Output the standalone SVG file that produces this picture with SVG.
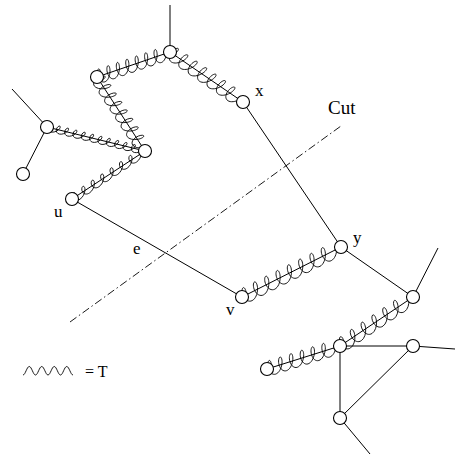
<svg xmlns="http://www.w3.org/2000/svg" xmlns:xlink="http://www.w3.org/1999/xlink" width="455" height="457" viewBox="0 0 455 457">
<style>
.ln{stroke:#000;stroke-width:1;fill:none}
.wv{stroke:#000;stroke-width:0.9;fill:none}
.nd{fill:#fff;stroke:#000;stroke-width:1.1}
.cut{stroke:#000;stroke-width:0.9;fill:none;stroke-dasharray:8 3 1.5 3}
text{font-family:"Liberation Serif","Times New Roman",serif;font-size:17px;fill:#000}
</style>
<defs>
<path id="w6" class="wv" vector-effect="non-scaling-stroke" d="M0,0 h4.5 c2.12,-3.58 1.87,-6.5 0.45,-6.5 c-1.42,0 -3.43,2.93 -3.45,6.5 c-0.02,3.58 2.02,6.5 5.55,6.5 c3.53,0 7.33,-2.93 9.45,-6.5 c2.12,-3.58 1.87,-6.5 0.45,-6.5 c-1.42,0 -3.43,2.93 -3.45,6.5 c-0.02,3.58 2.02,6.5 5.55,6.5 c3.53,0 7.33,-2.93 9.45,-6.5 c2.12,-3.58 1.87,-6.5 0.45,-6.5 c-1.42,0 -3.43,2.93 -3.45,6.5 c-0.02,3.58 2.02,6.5 5.55,6.5 c3.53,0 7.33,-2.93 9.45,-6.5 c2.12,-3.58 1.87,-6.5 0.45,-6.5 c-1.42,0 -3.43,2.93 -3.45,6.5 c-0.02,3.58 2.02,6.5 5.55,6.5 c3.53,0 7.33,-2.93 9.45,-6.5 c2.12,-3.58 1.87,-6.5 0.45,-6.5 c-1.42,0 -3.43,2.93 -3.45,6.5 c-0.02,3.58 2.02,6.5 5.55,6.5 c3.53,0 7.33,-2.93 9.45,-6.5 c2.12,-3.58 1.87,-6.5 0.45,-6.5 c-1.42,0 -3.43,2.93 -3.45,6.5 c-0.02,3.58 2.02,6.5 5.55,6.5 c3.53,0 7.33,-2.93 9.45,-6.5 h4.5"/>
<path id="w7" class="wv" vector-effect="non-scaling-stroke" d="M0,0 h4.5 c2.12,-3.58 1.87,-6.5 0.45,-6.5 c-1.42,0 -3.43,2.93 -3.45,6.5 c-0.02,3.58 2.02,6.5 5.55,6.5 c3.53,0 7.33,-2.93 9.45,-6.5 c2.12,-3.58 1.87,-6.5 0.45,-6.5 c-1.42,0 -3.43,2.93 -3.45,6.5 c-0.02,3.58 2.02,6.5 5.55,6.5 c3.53,0 7.33,-2.93 9.45,-6.5 c2.12,-3.58 1.87,-6.5 0.45,-6.5 c-1.42,0 -3.43,2.93 -3.45,6.5 c-0.02,3.58 2.02,6.5 5.55,6.5 c3.53,0 7.33,-2.93 9.45,-6.5 c2.12,-3.58 1.87,-6.5 0.45,-6.5 c-1.42,0 -3.43,2.93 -3.45,6.5 c-0.02,3.58 2.02,6.5 5.55,6.5 c3.53,0 7.33,-2.93 9.45,-6.5 c2.12,-3.58 1.87,-6.5 0.45,-6.5 c-1.42,0 -3.43,2.93 -3.45,6.5 c-0.02,3.58 2.02,6.5 5.55,6.5 c3.53,0 7.33,-2.93 9.45,-6.5 c2.12,-3.58 1.87,-6.5 0.45,-6.5 c-1.42,0 -3.43,2.93 -3.45,6.5 c-0.02,3.58 2.02,6.5 5.55,6.5 c3.53,0 7.33,-2.93 9.45,-6.5 c2.12,-3.58 1.87,-6.5 0.45,-6.5 c-1.42,0 -3.43,2.93 -3.45,6.5 c-0.02,3.58 2.02,6.5 5.55,6.5 c3.53,0 7.33,-2.93 9.45,-6.5 h4.5"/>
<path id="w8" class="wv" vector-effect="non-scaling-stroke" d="M0,0 h4.5 c2.12,-3.58 1.87,-6.5 0.45,-6.5 c-1.42,0 -3.43,2.93 -3.45,6.5 c-0.02,3.58 2.02,6.5 5.55,6.5 c3.53,0 7.33,-2.93 9.45,-6.5 c2.12,-3.58 1.87,-6.5 0.45,-6.5 c-1.42,0 -3.43,2.93 -3.45,6.5 c-0.02,3.58 2.02,6.5 5.55,6.5 c3.53,0 7.33,-2.93 9.45,-6.5 c2.12,-3.58 1.87,-6.5 0.45,-6.5 c-1.42,0 -3.43,2.93 -3.45,6.5 c-0.02,3.58 2.02,6.5 5.55,6.5 c3.53,0 7.33,-2.93 9.45,-6.5 c2.12,-3.58 1.87,-6.5 0.45,-6.5 c-1.42,0 -3.43,2.93 -3.45,6.5 c-0.02,3.58 2.02,6.5 5.55,6.5 c3.53,0 7.33,-2.93 9.45,-6.5 c2.12,-3.58 1.87,-6.5 0.45,-6.5 c-1.42,0 -3.43,2.93 -3.45,6.5 c-0.02,3.58 2.02,6.5 5.55,6.5 c3.53,0 7.33,-2.93 9.45,-6.5 c2.12,-3.58 1.87,-6.5 0.45,-6.5 c-1.42,0 -3.43,2.93 -3.45,6.5 c-0.02,3.58 2.02,6.5 5.55,6.5 c3.53,0 7.33,-2.93 9.45,-6.5 c2.12,-3.58 1.87,-6.5 0.45,-6.5 c-1.42,0 -3.43,2.93 -3.45,6.5 c-0.02,3.58 2.02,6.5 5.55,6.5 c3.53,0 7.33,-2.93 9.45,-6.5 c2.12,-3.58 1.87,-6.5 0.45,-6.5 c-1.42,0 -3.43,2.93 -3.45,6.5 c-0.02,3.58 2.02,6.5 5.55,6.5 c3.53,0 7.33,-2.93 9.45,-6.5 h4.5"/>
<path id="w11" class="wv" vector-effect="non-scaling-stroke" d="M0,0 h4.5 c2.12,-3.58 1.87,-6.5 0.45,-6.5 c-1.42,0 -3.43,2.93 -3.45,6.5 c-0.02,3.58 2.02,6.5 5.55,6.5 c3.53,0 7.33,-2.93 9.45,-6.5 c2.12,-3.58 1.87,-6.5 0.45,-6.5 c-1.42,0 -3.43,2.93 -3.45,6.5 c-0.02,3.58 2.02,6.5 5.55,6.5 c3.53,0 7.33,-2.93 9.45,-6.5 c2.12,-3.58 1.87,-6.5 0.45,-6.5 c-1.42,0 -3.43,2.93 -3.45,6.5 c-0.02,3.58 2.02,6.5 5.55,6.5 c3.53,0 7.33,-2.93 9.45,-6.5 c2.12,-3.58 1.87,-6.5 0.45,-6.5 c-1.42,0 -3.43,2.93 -3.45,6.5 c-0.02,3.58 2.02,6.5 5.55,6.5 c3.53,0 7.33,-2.93 9.45,-6.5 c2.12,-3.58 1.87,-6.5 0.45,-6.5 c-1.42,0 -3.43,2.93 -3.45,6.5 c-0.02,3.58 2.02,6.5 5.55,6.5 c3.53,0 7.33,-2.93 9.45,-6.5 c2.12,-3.58 1.87,-6.5 0.45,-6.5 c-1.42,0 -3.43,2.93 -3.45,6.5 c-0.02,3.58 2.02,6.5 5.55,6.5 c3.53,0 7.33,-2.93 9.45,-6.5 c2.12,-3.58 1.87,-6.5 0.45,-6.5 c-1.42,0 -3.43,2.93 -3.45,6.5 c-0.02,3.58 2.02,6.5 5.55,6.5 c3.53,0 7.33,-2.93 9.45,-6.5 c2.12,-3.58 1.87,-6.5 0.45,-6.5 c-1.42,0 -3.43,2.93 -3.45,6.5 c-0.02,3.58 2.02,6.5 5.55,6.5 c3.53,0 7.33,-2.93 9.45,-6.5 c2.12,-3.58 1.87,-6.5 0.45,-6.5 c-1.42,0 -3.43,2.93 -3.45,6.5 c-0.02,3.58 2.02,6.5 5.55,6.5 c3.53,0 7.33,-2.93 9.45,-6.5 c2.12,-3.58 1.87,-6.5 0.45,-6.5 c-1.42,0 -3.43,2.93 -3.45,6.5 c-0.02,3.58 2.02,6.5 5.55,6.5 c3.53,0 7.33,-2.93 9.45,-6.5 c2.12,-3.58 1.87,-6.5 0.45,-6.5 c-1.42,0 -3.43,2.93 -3.45,6.5 c-0.02,3.58 2.02,6.5 5.55,6.5 c3.53,0 7.33,-2.93 9.45,-6.5 h4.5"/>
</defs>

<line class="cut" x1="70" y1="322" x2="341" y2="126"/>

<g id="connectors">
  <line class="ln" x1="170" y1="52" x2="170" y2="5"/>
  <line class="ln" x1="47" y1="127" x2="12" y2="89"/>
  <line class="ln" x1="47" y1="127" x2="23" y2="174"/>
  <line class="ln" x1="72" y1="199" x2="242" y2="297"/>
  <line class="ln" x1="243" y1="102" x2="341" y2="247"/>
  <line class="ln" x1="341" y1="247" x2="413" y2="297"/>
  <line class="ln" x1="413" y1="297" x2="438" y2="248"/>
  <line class="ln" x1="340" y1="346" x2="413" y2="346"/>
  <line class="ln" x1="340" y1="346" x2="340" y2="418"/>
  <line class="ln" x1="413" y1="346" x2="340" y2="418"/>
  <line class="ln" x1="413" y1="346" x2="455" y2="349"/>
  <line class="ln" x1="340" y1="418" x2="370" y2="454"/>
  <line class="ln" x1="97" y1="77" x2="170" y2="52"/>
  <line class="ln" x1="170" y1="52" x2="243" y2="102"/>
  <line class="ln" x1="97" y1="77" x2="145" y2="151"/>
  <line class="ln" x1="47" y1="127" x2="145" y2="151"/>
  <line class="ln" x1="72" y1="199" x2="145" y2="151"/>
  <line class="ln" x1="242" y1="297" x2="341" y2="247"/>
  <line class="ln" x1="267" y1="369" x2="340" y2="346"/>
  <line class="ln" x1="340" y1="346" x2="413" y2="297"/>
  <use href="#w7" transform="translate(97,77) rotate(-18.9) scale(0.83,1.1)"/>
  <use href="#w7" transform="translate(170,52) rotate(34.4) scale(0.951,1.15)"/>
  <use href="#w8" transform="translate(97,77) rotate(57.0) scale(0.84,1.1)"/>
  <use href="#w11" transform="translate(47,127) rotate(13.8) scale(0.716,0.6)"/>
  <use href="#w7" transform="translate(72,199) rotate(-33.3) scale(0.939,0.7)"/>
  <use href="#w8" transform="translate(242,297) rotate(-26.8) scale(1.056,1.2)"/>
  <use href="#w6" transform="translate(267,369) rotate(-17.5) scale(0.945,1.15)"/>
  <use href="#w6" transform="translate(340,346) rotate(-33.9) scale(1.085,1.15)"/>
</g>

<g id="nA"><circle class="nd" cx="170" cy="52" r="6.5"/></g>
<g id="nB"><circle class="nd" cx="97" cy="77" r="6.5"/></g>
<g id="nX"><circle class="nd" cx="243" cy="102" r="6.5"/><text x="255" y="96">x</text></g>
<g id="nD"><circle class="nd" cx="47" cy="127" r="6.5"/></g>
<g id="nE"><circle class="nd" cx="23" cy="174" r="6.5"/></g>
<g id="nF"><circle class="nd" cx="145" cy="151" r="6.5"/></g>
<g id="nU"><circle class="nd" cx="72" cy="199" r="6.5"/><text x="54" y="217">u</text></g>
<g id="nY"><circle class="nd" cx="341" cy="247" r="6.5"/><text x="353" y="243">y</text></g>
<g id="nV"><circle class="nd" cx="242" cy="297" r="6.5"/><text x="226" y="315">v</text></g>
<g id="nG"><circle class="nd" cx="413" cy="297" r="6.5"/></g>
<g id="nH"><circle class="nd" cx="340" cy="346" r="6.5"/></g>
<g id="nI"><circle class="nd" cx="413" cy="346" r="6.5"/></g>
<g id="nJ"><circle class="nd" cx="340" cy="418" r="6.5"/></g>
<g id="nK"><circle class="nd" cx="267" cy="369" r="6.5"/></g>

<text x="133" y="254">e</text>
<text x="328" y="114" style="font-size:19px">Cut</text>

<g id="legend">
  <path class="wv" d="M23,375 c2.4,0 3.8,-8.5 6.25,-8.5 c2.45,0 3.85,8.5 6.25,8.5 c2.4,0 3.8,-8.5 6.25,-8.5 c2.45,0 3.85,8.5 6.25,8.5 c2.4,0 3.8,-8.5 6.25,-8.5 c2.45,0 3.85,8.5 6.25,8.5 c2.4,0 3.8,-8.5 6.25,-8.5 c2.45,0 3.85,8.5 6.25,8.5"/>
  <text x="85" y="377" style="font-size:16px">= T</text>
</g>
</svg>
